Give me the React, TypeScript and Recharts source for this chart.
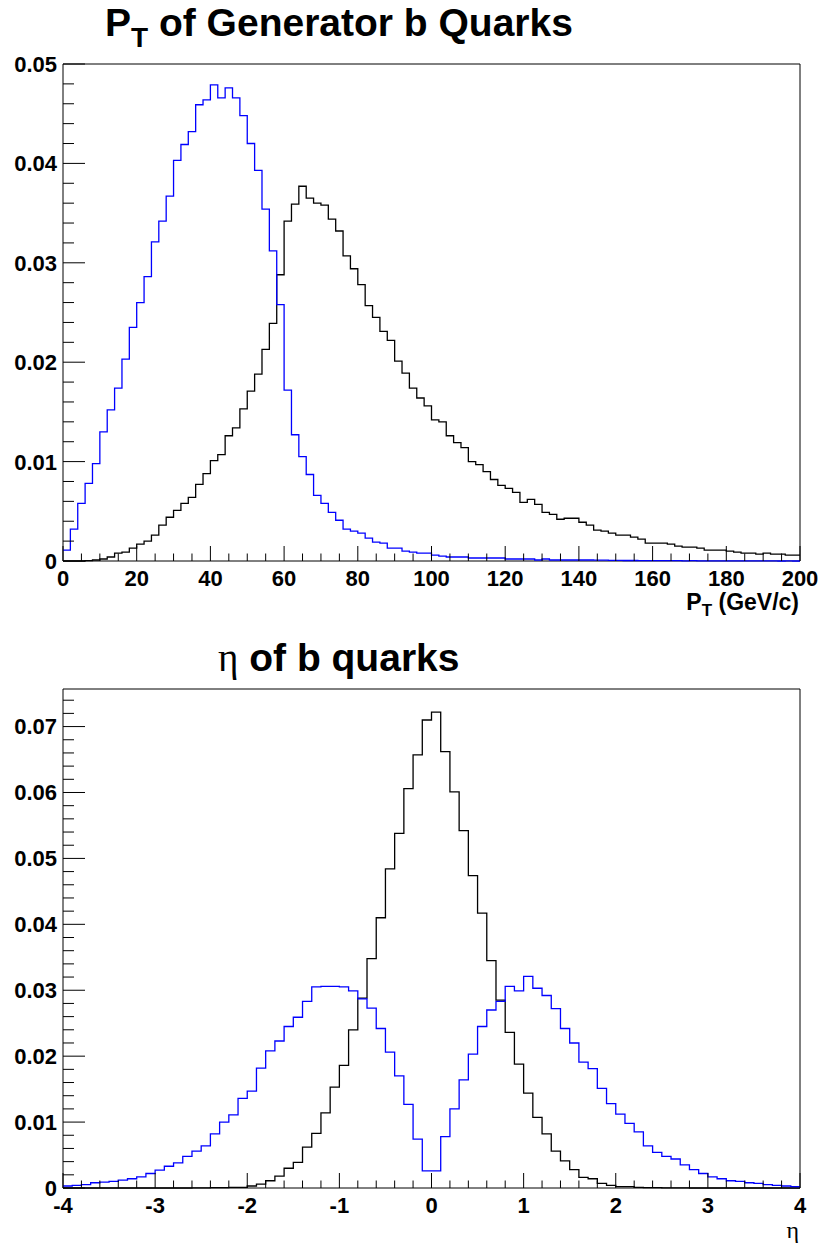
import React from 'react';
import { LineChart, Line, XAxis, YAxis, ReferenceArea } from 'recharts';

// top panel: PT histograms, 100 bins of 2 GeV/c
const PT_LO = 0;
const PT_HI = 200;
const PT_BIN = 2;
const ptBlue = [
  0.0011, 0.0032, 0.0058, 0.0078, 0.0098, 0.0130, 0.0152, 0.0174, 0.0203, 0.0235,
  0.0260, 0.0286, 0.0321, 0.0342, 0.0367, 0.0403, 0.0419, 0.0432, 0.0459, 0.0464,
  0.0479, 0.0466, 0.0476, 0.0466, 0.0448, 0.0420, 0.0393, 0.0354, 0.0312, 0.0258,
  0.0172, 0.0127, 0.0105, 0.0087, 0.0066, 0.0058, 0.0049, 0.0041, 0.0032, 0.0030,
  0.0028, 0.0023, 0.0019, 0.0018, 0.0013, 0.0013, 0.0010, 0.0009, 0.0008, 0.0008,
  0.0006, 0.0005, 0.0004, 0.0004, 0.0004, 0.0003, 0.0003, 0.0003, 0.0003, 0.0003,
  0.0002, 0.0002, 0.0002, 0.0002, 0.0001, 0.0002, 0.0001, 0.0001, 0.0001, 0.0001,
  0.0001, 0.0001, 0.00008, 0.00008, 0.00006, 0.00006, 0.00005, 0.00005, 0.00004, 0.00004,
  0.00003, 0.00004, 0.00003, 0.00003, 0.00002, 0.00003, 0.00002, 0.00002, 0.00002, 0.00001,
  0.00002, 0.00001, 0.00001, 0.00001, 0.00001, 0.00001, 0.00001, 0.0, 0.00001, 0.0,
];
const ptBlack = [
  0.0, 0.0, 0.0, 0.00003, 0.0001, 0.0002, 0.0004, 0.0008, 0.0009, 0.0013,
  0.0017, 0.0020, 0.0026, 0.0036, 0.0044, 0.0051, 0.0058, 0.0064, 0.0077, 0.0088,
  0.0101, 0.0107, 0.0126, 0.0134, 0.0153, 0.0171, 0.0188, 0.0213, 0.0239, 0.0288,
  0.0342, 0.0359, 0.0377, 0.0365, 0.0360, 0.0358, 0.0344, 0.0332, 0.0307, 0.0294,
  0.0278, 0.0257, 0.0245, 0.0231, 0.0222, 0.0201, 0.0189, 0.0174, 0.0164, 0.0156,
  0.0142, 0.0140, 0.0126, 0.0119, 0.0114, 0.0100, 0.0097, 0.0090, 0.0082, 0.0076,
  0.0073, 0.0069, 0.0059, 0.0062, 0.0057, 0.0049, 0.0047, 0.0042, 0.0043, 0.0043,
  0.0039, 0.0036, 0.0031, 0.0030, 0.0028, 0.0026, 0.0026, 0.0024, 0.0022, 0.0018,
  0.0018, 0.0018, 0.0017, 0.0015, 0.0014, 0.0014, 0.0013, 0.0011, 0.0011, 0.0011,
  0.0010, 0.0009, 0.0008, 0.0008, 0.0007, 0.0008, 0.0007, 0.0007, 0.0006, 0.0006,
];
const ptXLabels = [0, 20, 40, 60, 80, 100, 120, 140, 160, 180, 200];
const ptYLabels = [0, 0.01, 0.02, 0.03, 0.04, 0.05];

// bottom panel: eta histograms, 80 bins of 0.1
const ETA_LO = -4;
const ETA_HI = 4;
const ETA_BIN = 0.1;
const ETA_YMAX = 0.0757;
const etaBlue = [
  0.0003, 0.0004, 0.0005, 0.0008, 0.0009, 0.0010, 0.0012, 0.0014, 0.0017, 0.0022,
  0.0027, 0.0033, 0.0038, 0.0048, 0.0056, 0.0064, 0.0082, 0.0100, 0.0111, 0.0136,
  0.0147, 0.0182, 0.0208, 0.0223, 0.0245, 0.0259, 0.0283, 0.0305, 0.0306, 0.0306,
  0.0305, 0.0299, 0.0287, 0.0273, 0.0242, 0.0206, 0.0170, 0.0127, 0.0074, 0.0026,
  0.0026, 0.0078, 0.0120, 0.0164, 0.0203, 0.0245, 0.0270, 0.0283, 0.0306, 0.0299,
  0.0321, 0.0303, 0.0292, 0.0272, 0.0242, 0.0220, 0.0191, 0.0181, 0.0151, 0.0128,
  0.0112, 0.0098, 0.0085, 0.0064, 0.0054, 0.0048, 0.0044, 0.0035, 0.0028, 0.0022,
  0.0017, 0.0014, 0.0011, 0.0010, 0.0008, 0.0007, 0.0005, 0.0004, 0.0003, 0.0002,
];
const etaBlack = [
  0.0, 0.0, 0.0, 0.0, 0.0, 0.0, 0.0, 0.0, 0.0, 0.0,
  0.0, 0.0, 0.0, 0.0, 0.00002, 0.00003, 0.00005, 0.00005, 0.0001, 0.0001,
  0.0003, 0.0006, 0.0011, 0.0018, 0.0030, 0.0039, 0.0062, 0.0083, 0.0114, 0.0153,
  0.0186, 0.0240, 0.0288, 0.0348, 0.0410, 0.0484, 0.0538, 0.0606, 0.0657, 0.0710,
  0.0722, 0.0662, 0.0601, 0.0542, 0.0474, 0.0417, 0.0345, 0.0285, 0.0236, 0.0188,
  0.0144, 0.0107, 0.0082, 0.0056, 0.0041, 0.0028, 0.0016, 0.0014, 0.0007, 0.0004,
  0.0002, 0.0002, 0.0001, 0.00005, 0.00005, 0.00003, 0.00002, 0.00002, 0.0, 0.0,
  0.0, 0.0, 0.0, 0.0, 0.0, 0.0, 0.0, 0.0, 0.0, 0.0,
];
const etaXLabels = [-4, -3, -2, -1, 0, 1, 2, 3, 4];
const etaYLabels = [0, 0.01, 0.02, 0.03, 0.04, 0.05, 0.06, 0.07];

const FONT = '"Liberation Sans", Arial, Helvetica, sans-serif';
const SYMBOL_FONT = '"Liberation Serif", "Times New Roman", serif';
const LABEL_SIZE = 22;

// bin edges -> rows for a stepAfter line (last bin repeated at the upper edge)
function histRows(lo: number, bin: number, blue: number[], black: number[]) {
  const rows = blue.map((b, i) => ({ x: +(lo + i * bin).toFixed(4), blue: b, black: black[i] }));
  const n = blue.length;
  rows.push({ x: +(lo + n * bin).toFixed(4), blue: blue[n - 1], black: black[n - 1] });
  return rows;
}

// majors plus `sub` subdivisions, optionally continued up to `max`
function withMinor(majors: number[], sub: number, max?: number) {
  const step = (majors[1] - majors[0]) / sub;
  const out: number[] = [];
  const end = max ?? majors[majors.length - 1];
  for (let i = 0; majors[0] + i * step <= end + 1e-9; i++) {
    out.push(+(majors[0] + i * step).toFixed(6));
  }
  return out;
}

const isMajor = (majors: number[], v: number) => majors.some((m) => Math.abs(m - v) < 1e-7);

const makeXTick = (majors: number[], len: number) => (props: any) => {
  const { x, y, payload } = props;
  const major = isMajor(majors, payload.value);
  return (
    <g>
      <line x1={x} x2={x} y1={y} y2={y - (major ? len : len / 2)} stroke="#000" strokeWidth={1} />
      {major && (
        <text x={x} y={y + 25} textAnchor="middle" fontFamily={FONT} fontWeight="bold" fontSize={LABEL_SIZE} fill="#000">
          {String(payload.value)}
        </text>
      )}
    </g>
  );
};

const makeYTick = (majors: number[], len: number) => (props: any) => {
  const { x, y, payload } = props;
  const major = isMajor(majors, payload.value);
  return (
    <g>
      <line x1={x} x2={x + (major ? len : len / 2)} y1={y} y2={y} stroke="#000" strokeWidth={1} />
      {major && (
        <text x={x - 6} y={y} dy="0.36em" textAnchor="end" fontFamily={FONT} fontWeight="bold" fontSize={LABEL_SIZE} fill="#000">
          {String(payload.value)}
        </text>
      )}
    </g>
  );
};

const ptRows = histRows(PT_LO, PT_BIN, ptBlue, ptBlack);
const etaRows = histRows(ETA_LO, ETA_BIN, etaBlue, etaBlack);

const PtChart = () => (
  <LineChart width={825} height={625} data={ptRows} margin={{ top: 64, right: 25, bottom: 0, left: 0 }}>
    <ReferenceArea x1={PT_LO} x2={PT_HI} y1={0} y2={0.05} fill="none" stroke="#000" strokeWidth={1} />
    <XAxis
      dataKey="x"
      type="number"
      domain={[PT_LO, PT_HI]}
      ticks={withMinor(ptXLabels, 4)}
      interval={0}
      tickSize={0}
      tickMargin={0}
      tickLine={false}
      axisLine={false}
      height={64}
      tick={makeXTick(ptXLabels, 15)}
    />
    <YAxis
      type="number"
      domain={[0, 0.05]}
      ticks={withMinor(ptYLabels, 5)}
      interval={0}
      tickSize={0}
      tickMargin={0}
      tickLine={false}
      axisLine={false}
      width={63}
      tick={makeYTick(ptYLabels, 22)}
    />
    <Line type="stepAfter" dataKey="black" stroke="#000000" strokeWidth={1.3} dot={false} isAnimationActive={false} />
    <Line type="stepAfter" dataKey="blue" stroke="#0000ff" strokeWidth={1.3} dot={false} isAnimationActive={false} />
  </LineChart>
);

const EtaChart = () => (
  <LineChart width={825} height={620} data={etaRows} margin={{ top: 64, right: 25, bottom: 0, left: 0 }}>
    <ReferenceArea x1={ETA_LO} x2={ETA_HI} y1={0} y2={ETA_YMAX} fill="none" stroke="#000" strokeWidth={1} />
    <XAxis
      dataKey="x"
      type="number"
      domain={[ETA_LO, ETA_HI]}
      ticks={withMinor(etaXLabels, 5)}
      interval={0}
      tickSize={0}
      tickMargin={0}
      tickLine={false}
      axisLine={false}
      height={57}
      tick={makeXTick(etaXLabels, 15)}
    />
    <YAxis
      type="number"
      domain={[0, ETA_YMAX]}
      ticks={withMinor(etaYLabels, 5, ETA_YMAX)}
      interval={0}
      tickSize={0}
      tickMargin={0}
      tickLine={false}
      axisLine={false}
      width={63}
      tick={makeYTick(etaYLabels, 22)}
    />
    <Line type="stepAfter" dataKey="black" stroke="#000000" strokeWidth={1.3} dot={false} isAnimationActive={false} />
    <Line type="stepAfter" dataKey="blue" stroke="#0000ff" strokeWidth={1.3} dot={false} isAnimationActive={false} />
  </LineChart>
);

export default function App() {
  return (
    <div style={{ position: 'absolute', left: 0, top: 0, width: 825, height: 1245, background: '#fff' }}>
      <div style={{ position: 'absolute', left: 0, top: 0 }}>
        <PtChart />
      </div>
      <div style={{ position: 'absolute', left: 0, top: 625 }}>
        <EtaChart />
      </div>
      <svg width={825} height={1245} style={{ position: 'absolute', left: 0, top: 0, pointerEvents: 'none' }}>
        <text x={105} y={36} fontFamily={FONT} fontWeight="bold" fontSize={39} fill="#000">
          P<tspan fontSize={28} dy={11}>T</tspan>
          <tspan dy={-11}> of Generator b Quarks</tspan>
        </text>
        <text x={799} y={610} textAnchor="end" fontFamily={FONT} fontWeight="bold" fontSize={23} fill="#000">
          P<tspan fontSize={17} dy={6}>T</tspan>
          <tspan dy={-6}> (GeV/c)</tspan>
        </text>
        <text x={218} y={671} fontFamily={FONT} fontWeight="bold" fontSize={39} fill="#000">
          <tspan fontFamily={SYMBOL_FONT} fontWeight="normal">η</tspan> of b quarks
        </text>
        <text x={799} y={1238} textAnchor="end" fontFamily={SYMBOL_FONT} fontSize={24} fill="#000">
          η
        </text>
      </svg>
    </div>
  );
}
